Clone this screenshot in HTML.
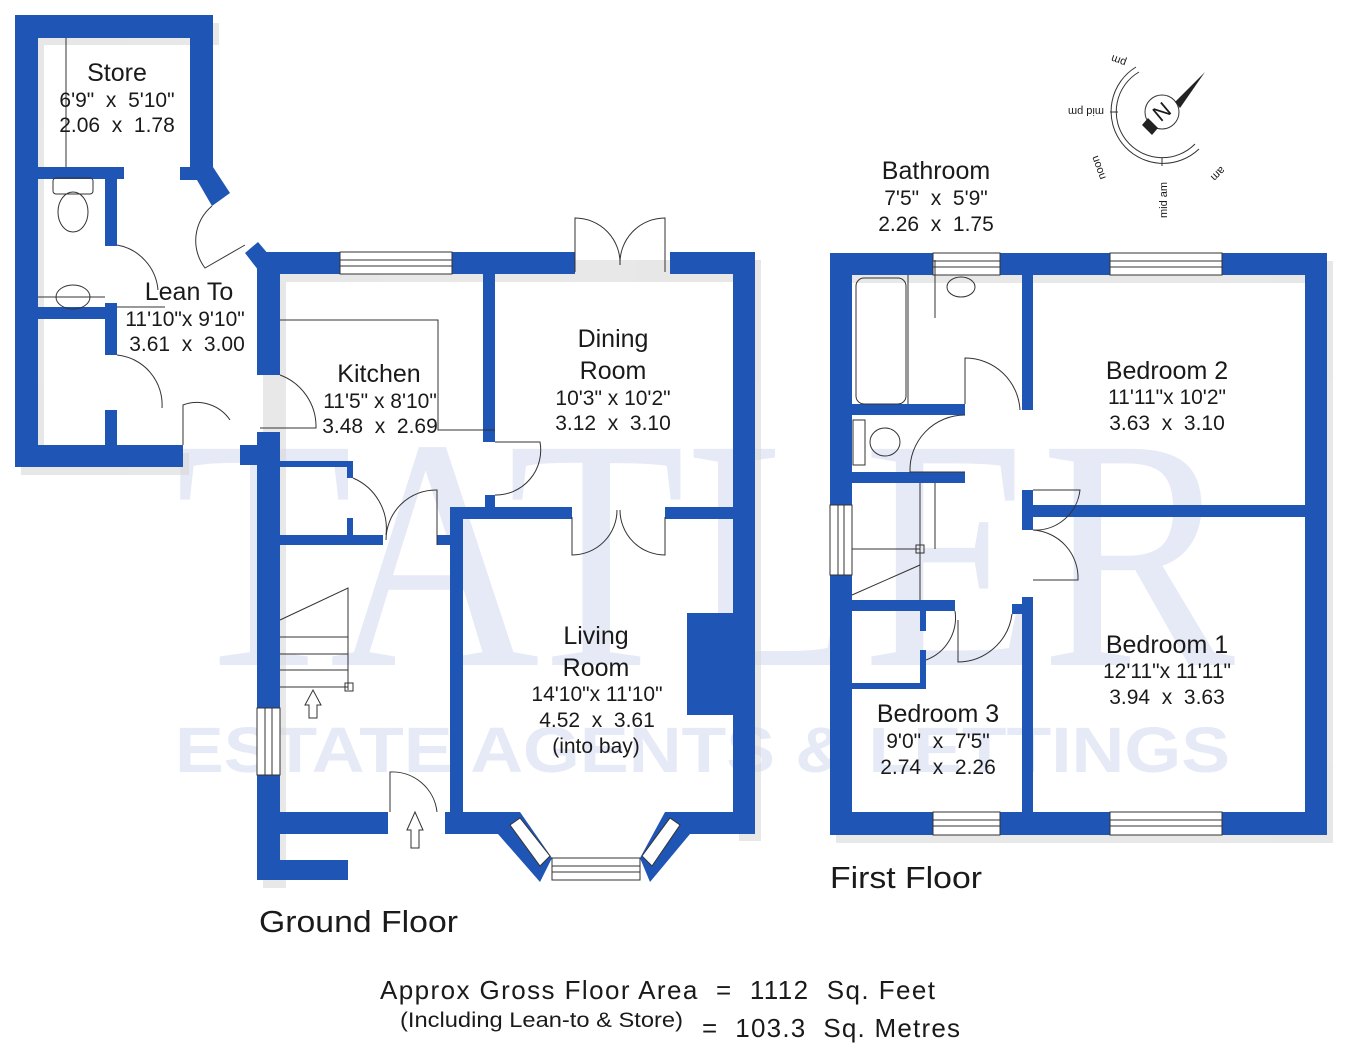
<!DOCTYPE html>
<html><head><meta charset="utf-8"><style>
html,body{margin:0;padding:0;background:#fff;width:1356px;height:1050px;overflow:hidden}
svg{display:block}
text{font-family:"Liberation Sans",sans-serif;fill:#1a1a1a;white-space:pre}
</style></head><body>
<svg width="1356" height="1050" viewBox="0 0 1356 1050" xmlns="http://www.w3.org/2000/svg" xml:space="preserve">
<text x="175" y="665" font-size="330" style="fill:#e6e9f6;font-family:'Liberation Serif',serif" textLength="1060" lengthAdjust="spacingAndGlyphs">TATLER</text>
<text x="175" y="772" font-size="64" style="fill:#e6e9f6;font-family:'Liberation Sans',sans-serif;font-weight:bold" textLength="1055" lengthAdjust="spacingAndGlyphs">ESTATE AGENTS &amp; LETTINGS</text>
<g fill="#d8d8d8" opacity="0.6" transform="translate(6,8)">
<rect x="15" y="15" width="198" height="22"/><rect x="15" y="15" width="23" height="452"/><rect x="15" y="445" width="168" height="22"/>
<rect x="257" y="252" width="498" height="22"/><rect x="733" y="252" width="22" height="581"/><rect x="257" y="252" width="23" height="628"/>
<rect x="830" y="253" width="497" height="22"/><rect x="1305" y="253" width="22" height="582"/><rect x="830" y="812" width="497" height="23"/>
</g>
<g fill="#1f55b5">
<rect x="15" y="15" width="198" height="23"/>
<rect x="15" y="15" width="23" height="452"/>
<rect x="15" y="445" width="168" height="22"/>
<rect x="190" y="15" width="23" height="163"/>
<polygon points="180,167 213,167 230,193 212,206 197,180 180,180"/>
<polygon points="245,253 258,242 280,268 280,275 262,275"/>
<rect x="38" y="167" width="86" height="12"/>
<rect x="105" y="178" width="12" height="68"/>
<rect x="38" y="307" width="79" height="12"/>
<rect x="105" y="303" width="12" height="52"/>
<rect x="105" y="410" width="12" height="36"/>
<rect x="257" y="252" width="83" height="22"/>
<rect x="452" y="252" width="123" height="22"/>
<rect x="670" y="252" width="85" height="22"/>
<rect x="257" y="252" width="23" height="123"/>
<rect x="483" y="274" width="12" height="168"/>
<rect x="733" y="252" width="22" height="581"/>
<rect x="257" y="432" width="23" height="276"/>
<rect x="257" y="775" width="23" height="105"/>
<rect x="257" y="860" width="91" height="20"/>
<rect x="240" y="445" width="40" height="20"/>
<rect x="280" y="461" width="73" height="6"/>
<rect x="347" y="461" width="6" height="17"/>
<rect x="280" y="535" width="103" height="10"/>
<rect x="347" y="518" width="6" height="18"/>
<rect x="280" y="812" width="108" height="22"/>
<rect x="437" y="535" width="13" height="10"/>
<rect x="485" y="495" width="10" height="12"/>
<rect x="450" y="507" width="122" height="12"/>
<rect x="665" y="507" width="68" height="12"/>
<rect x="450" y="507" width="13" height="326"/>
<rect x="445" y="812" width="55" height="22"/>
<rect x="685" y="812" width="70" height="22"/>
<rect x="687" y="613" width="46" height="102"/>
<polygon points="500,812 520,812 552,858 540,882 498,834"/>
<polygon points="685,812 665,812 640,858 650,882 690,834"/>
<rect x="830" y="253" width="103" height="22"/>
<rect x="1000" y="253" width="110" height="22"/>
<rect x="1222" y="253" width="105" height="22"/>
<rect x="830" y="253" width="22" height="252"/>
<rect x="830" y="575" width="22" height="260"/>
<rect x="1305" y="253" width="22" height="582"/>
<rect x="830" y="812" width="103" height="23"/>
<rect x="1000" y="812" width="110" height="23"/>
<rect x="1222" y="812" width="105" height="23"/>
<rect x="1022" y="275" width="11" height="135"/>
<rect x="1022" y="490" width="11" height="40"/>
<rect x="1022" y="597" width="11" height="215"/>
<rect x="1012" y="604" width="12" height="10"/>
<rect x="1033" y="505" width="272" height="12"/>
<rect x="852" y="404" width="113" height="11"/>
<rect x="852" y="472" width="113" height="11"/>
<rect x="852" y="600" width="103" height="11"/>
<rect x="920" y="611" width="6" height="20"/>
<rect x="852" y="683" width="74" height="6"/>
<rect x="920" y="650" width="6" height="38"/>
</g>
<g fill="#fff" stroke="#333" stroke-width="1">
<rect x="340" y="252" width="112" height="22"/>
<rect x="257" y="708" width="23" height="67"/>
<rect x="933" y="253" width="67" height="22"/><rect x="1110" y="253" width="112" height="22"/>
<rect x="933" y="812" width="67" height="23"/><rect x="1110" y="812" width="112" height="23"/>
<rect x="830" y="505" width="22" height="70"/>
<polygon points="552,858 640,858 640,880 552,880"/>
<polygon points="510,825 520,818 550,856 540,866"/>
<polygon points="680,825 670,818 642,856 652,866"/>
</g>
<g stroke="#333" stroke-width="1" fill="none">
<line x1="340" y1="260" x2="452" y2="260"/><line x1="340" y1="266" x2="452" y2="266"/>
<line x1="265" y1="708" x2="265" y2="775"/><line x1="272" y1="708" x2="272" y2="775"/>
<line x1="933" y1="261" x2="1000" y2="261"/><line x1="933" y1="267" x2="1000" y2="267"/>
<line x1="1110" y1="261" x2="1222" y2="261"/><line x1="1110" y1="267" x2="1222" y2="267"/>
<line x1="933" y1="820" x2="1000" y2="820"/><line x1="933" y1="826" x2="1000" y2="826"/>
<line x1="1110" y1="820" x2="1222" y2="820"/><line x1="1110" y1="826" x2="1222" y2="826"/>
<line x1="838" y1="505" x2="838" y2="575"/><line x1="844" y1="505" x2="844" y2="575"/>
<line x1="552" y1="866" x2="640" y2="866"/><line x1="552" y1="872" x2="640" y2="872"/>
<path d="M575,272 L575,218 A45,45 0 0 1 620,265"/><path d="M665,272 L665,218 A45,45 0 0 0 620,265"/>
<path d="M572,517 L572,555 A45,45 0 0 0 617,510"/><path d="M665,517 L665,555 A45,45 0 0 1 620,510"/>
<path d="M495,442 L540,442 A45,45 0 0 1 495,495"/>
<path d="M280,375 A55,55 0 0 1 316,428 L260,428"/>
<path d="M353,478 A55,55 0 0 1 386,535"/>
<path d="M437,545 L437,490 A50,50 0 0 0 386,540"/>
<path d="M390,812 L390,772 A45,45 0 0 1 437,812"/>
<path d="M183,445 L183,405 A40,40 0 0 1 230,420"/>
<path d="M117,245 A50,50 0 0 1 158,290"/>
<path d="M117,355 A50,50 0 0 1 162,408"/>
<path d="M212,206 A45,45 0 0 0 205,268 L245,245"/>
<path d="M965,404 L965,358 A55,55 0 0 1 1020,410"/>
<path d="M965,415 A55,55 0 0 0 910,472 L965,472"/>
<path d="M1033,490 L1080,490 A45,45 0 0 1 1033,530"/>
<path d="M1033,530 A48,48 0 0 1 1078,580 L1033,580"/>
<path d="M1012,614 A55,55 0 0 1 958,662 L958,620"/>
<path d="M955,611 A45,45 0 0 1 926,660"/>
<rect x="53" y="178" width="40" height="16" rx="3"/><ellipse cx="73" cy="212" rx="15" ry="20"/>
<ellipse cx="73" cy="297" rx="17" ry="12"/>
<line x1="66" y1="38" x2="66" y2="167"/>
<line x1="38" y1="297" x2="105" y2="297"/>
<path d="M117,307 L165,307"/>
<path d="M280,320 L438,320 L438,430 L495,430"/>
<rect x="856" y="278" width="50" height="126" rx="8"/>
<line x1="908" y1="275" x2="908" y2="404"/>
<ellipse cx="961" cy="287" rx="14" ry="10"/>
<line x1="935" y1="260" x2="935" y2="318"/>
<rect x="853" y="420" width="12" height="45"/><ellipse cx="885" cy="442" rx="15" ry="14"/>
<line x1="852" y1="549" x2="920" y2="549"/><line x1="920" y1="483" x2="920" y2="600"/><line x1="935" y1="483" x2="935" y2="549"/>
<rect x="916" y="545" width="8" height="8"/>
<path d="M852,595 L920,565"/>
<path d="M280,620 L348,588 L348,690"/>
<path d="M280,637 L348,637 M280,654 L348,654 M280,670 L348,670 M280,687 L348,687"/>
<rect x="345" y="683" width="8" height="8"/>
<path d="M305,705 L313,690 L321,705 L317,705 L317,718 L309,718 L309,705 Z"/>
<path d="M407,830 L415,812 L423,830 L419,830 L419,848 L411,848 L411,830 Z"/>
<circle cx="1162" cy="112" r="17"/>
<path d="M1136,67 A52,52 0 1 0 1199,149"/>
<path d="M1139,72 A46,46 0 1 0 1195,144"/>
<line x1="1162" y1="158" x2="1162" y2="166"/>
<line x1="1110" y1="112" x2="1118" y2="112"/>
</g>
<polygon points="1175,102 1205,72 1180,108" fill="#222"/>
<polygon points="1148,118 1142,125 1152,135 1158,128" fill="#222"/>
<text x="1162" y="120" font-size="22" text-anchor="middle" transform="rotate(140 1162 112)">N</text>
<g font-size="11">
<text transform="translate(1127,60) rotate(200)">pm</text>
<text transform="translate(1104,108) rotate(180)">mid pm</text>
<text transform="translate(1106,178) rotate(-110)">noon</text>
<text transform="translate(1167,218) rotate(-90)">mid am</text>
<text transform="translate(1221,166) rotate(135)">am</text>
</g>
<g text-anchor="middle">
<text x="117" y="81" font-size="25">Store</text>
<text x="117" y="107" font-size="21">6'9"  x  5'10"</text>
<text x="117" y="132" font-size="21">2.06  x  1.78</text>
<text x="189" y="300" font-size="25">Lean To</text>
<text x="185" y="326" font-size="21">11'10"x 9'10"</text>
<text x="187" y="351" font-size="21">3.61  x  3.00</text>
<text x="379" y="382" font-size="25">Kitchen</text>
<text x="380" y="408" font-size="21">11'5" x 8'10"</text>
<text x="380" y="433" font-size="21">3.48  x  2.69</text>
<text x="613" y="347" font-size="25">Dining</text>
<text x="613" y="379" font-size="25">Room</text>
<text x="613" y="405" font-size="21">10'3" x 10'2"</text>
<text x="613" y="430" font-size="21">3.12  x  3.10</text>
<text x="596" y="644" font-size="25">Living</text>
<text x="596" y="676" font-size="25">Room</text>
<text x="597" y="701" font-size="21">14'10"x 11'10"</text>
<text x="597" y="727" font-size="21">4.52  x  3.61</text>
<text x="596" y="753" font-size="21">(into bay)</text>
<text x="936" y="179" font-size="25">Bathroom</text>
<text x="936" y="205" font-size="21">7'5"  x  5'9"</text>
<text x="936" y="231" font-size="21">2.26  x  1.75</text>
<text x="1167" y="379" font-size="25">Bedroom 2</text>
<text x="1167" y="404" font-size="21">11'11"x 10'2"</text>
<text x="1167" y="430" font-size="21">3.63  x  3.10</text>
<text x="1167" y="653" font-size="25">Bedroom 1</text>
<text x="1167" y="678" font-size="21">12'11"x 11'11"</text>
<text x="1167" y="704" font-size="21">3.94  x  3.63</text>
<text x="938" y="722" font-size="25">Bedroom 3</text>
<text x="938" y="748" font-size="21">9'0"  x  7'5"</text>
<text x="938" y="774" font-size="21">2.74  x  2.26</text>
</g>
<text x="259" y="932" font-size="31" textLength="199" lengthAdjust="spacingAndGlyphs">Ground Floor</text>
<text x="830" y="888" font-size="31" textLength="152" lengthAdjust="spacingAndGlyphs">First Floor</text>
<text x="380" y="999" font-size="26" textLength="555" lengthAdjust="spacing">Approx Gross Floor Area  =  1112  Sq. Feet</text>
<text x="400" y="1027" font-size="21" textLength="283" lengthAdjust="spacingAndGlyphs">(Including Lean-to &amp; Store)</text>
<text x="702" y="1037" font-size="26" textLength="258" lengthAdjust="spacing">=  103.3  Sq. Metres</text>
</svg>
</body></html>
